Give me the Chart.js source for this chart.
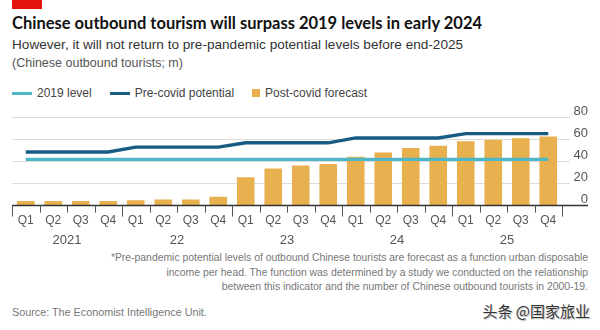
<!DOCTYPE html>
<html>
<head>
<meta charset="utf-8">
<script src="https://cdn.jsdelivr.net/npm/chart.js@4/dist/chart.umd.min.js"></script>
<style>
  html, body { margin: 0; padding: 0; background: #fff; }
  body { width: 600px; height: 330px; position: relative; overflow: hidden;
         font-family: 'Liberation Sans Narrow', 'Liberation Sans', sans-serif; }
  .abs { position: absolute; white-space: nowrap; }
  #marca { left: 12px; top: 0; width: 30px; height: 9px; background: #e3120b; }
  #titulo { left: 12px; top: 13px; font: bold 16.5px Lato, sans-serif; color: #121212; }
  #subtitulo { left: 12px; top: 37px; font-size: 13.6px; color: #333; }
  #unidad { left: 12px; top: 56px; font-size: 12.5px; color: #555; }
  #leyenda { left: 12px; top: 86px; font-size: 12px; color: #444; display: flex; align-items: center; }
  #leyenda .item { display: flex; align-items: center; margin-right: 18px; }
  #leyenda .linea { width: 20px; height: 3px; margin-right: 5px; }
  #leyenda .cuadro { width: 8px; height: 8px; margin-right: 5px; }
  #lienzo { left: 0; top: 100px; width: 600px; height: 150px; }
  #nota { right: 12px; top: 251px; font-size: 10.4px; color: #777; text-align: right; line-height: 14.5px; }
  #fuente { left: 12px; top: 306px; font-size: 10.8px; color: #777; }
  #firma { right: 10px; top: 300px; font: 15px 'Noto Sans CJK SC', sans-serif; color: #333;
           text-shadow: 0 0 2px #fff, 1px 1px 1px #aaa; }
</style>
</head>
<body>
<div id="marca" class="abs"></div>
<div id="titulo" class="abs">Chinese outbound tourism will surpass 2019 levels in early 2024</div>
<div id="subtitulo" class="abs">However, it will not return to pre-pandemic potential levels before end-2025</div>
<div id="unidad" class="abs">(Chinese outbound tourists; m)</div>
<div id="leyenda" class="abs"></div>
<div class="abs" id="lienzo"><canvas id="grafico"></canvas></div>
<div id="nota" class="abs">*Pre-pandemic potential levels of outbound Chinese tourists are forecast as a function urban disposable<br>income per head. The function was determined by a study we conducted on the relationship<br>between this indicator and the number of Chinese outbound tourists in 2000-19.</div>
<div id="fuente" class="abs">Source: The Economist Intelligence Unit.</div>
<div id="firma" class="abs">头条 @国家旅业</div>

<script>
// Trimestres y años del eje X
const trimestres = ['Q1', 'Q2', 'Q3', 'Q4', 'Q1', 'Q2', 'Q3', 'Q4', 'Q1', 'Q2', 'Q3', 'Q4',
                    'Q1', 'Q2', 'Q3', 'Q4', 'Q1', 'Q2', 'Q3', 'Q4'];
const anios = ['2021', '22', '23', '24', '25'];

// Series en millones de turistas
const nivel2019 = [41.7, 41.7, 41.7, 41.7, 41.7, 41.7, 41.7, 41.7, 41.7, 41.7,
                   41.7, 41.7, 41.7, 41.7, 41.7, 41.7, 41.7, 41.7, 41.7, 41.7];
const potencial = [48.4, 48.4, 48.4, 48.4, 52.8, 52.8, 52.8, 52.8, 56.7, 56.7,
                   56.7, 56.7, 61.1, 61.1, 61.1, 61.1, 65, 65, 65, 65];
const pronostico = [4.2, 4.2, 4.2, 4.2, 4.8, 5.5, 5.5, 8, 25.7, 33.6,
                    36.2, 37.5, 44, 48, 52, 54, 58, 59.4, 60.8, 62.4];

// Marcas del eje Y
const marcasY = [0, 20, 40, 60, 80];

const colores = {
    nivel: '#4db7c8',
    potencial: '#195c83',
    barras: '#e8b04e'
};

const fuenteAngosta = "'Liberation Sans Narrow', 'Liberation Sans', sans-serif";

// Leyenda en HTML
const leyenda = document.getElementById('leyenda');
[
    { texto: '2019 level', color: colores.nivel, tipo: 'linea' },
    { texto: 'Pre-covid potential', color: colores.potencial, tipo: 'linea' },
    { texto: 'Post-covid forecast', color: colores.barras, tipo: 'cuadro' }
].forEach(it => {
    leyenda.innerHTML += `<span class="item"><span class="${it.tipo}" style="background:${it.color}"></span>${it.texto}</span>`;
});

// Plugin: marcas del eje X, años, etiquetas del eje Y y línea base
const ejes = {
    id: 'ejes',
    afterDraw(chart) {
        const ctx = chart.ctx;
        const x = chart.scales.x;
        const y = chart.scales.y;
        const medio = (x.getPixelForValue(1) - x.getPixelForValue(0)) / 2;
        const base = y.getPixelForValue(0);

        ctx.save();
        // línea base
        ctx.strokeStyle = '#333';
        ctx.lineWidth = 1.5;
        ctx.beginPath();
        ctx.moveTo(x.left, base);
        ctx.lineTo(588, base);
        ctx.stroke();

        // marcas entre trimestres, más largas entre años
        ctx.strokeStyle = '#555';
        ctx.lineWidth = 1;
        for (let i = 0; i <= trimestres.length; i++) {
            const px = Math.round(x.getPixelForValue(0) - medio + i * medio * 2) + 0.5;
            ctx.beginPath();
            ctx.moveTo(px, base);
            ctx.lineTo(px, base + (i % 4 === 0 ? 11 : 7));
            ctx.stroke();
        }

        // años centrados bajo cada grupo de cuatro trimestres
        ctx.fillStyle = '#555';
        ctx.font = '13px ' + fuenteAngosta;
        ctx.textAlign = 'center';
        ctx.textBaseline = 'middle';
        anios.forEach((a, k) => {
            const px = x.getPixelForValue(k * 4 + 1) + medio;
            ctx.fillText(a, px, base + 35);
        });

        // etiquetas del eje Y sobre cada línea de cuadrícula
        ctx.textAlign = 'right';
        marcasY.forEach(v => {
            ctx.fillText(String(v), 588, y.getPixelForValue(v) - 6);
        });
        ctx.restore();
    }
};

new Chart(document.getElementById('grafico'), {
    type: 'bar',
    data: {
        labels: trimestres,
        datasets: [
            {
                type: 'line',
                label: 'Pre-covid potential',
                data: potencial,
                borderColor: colores.potencial,
                borderWidth: 3.4,
                pointRadius: 0,
                tension: 0
            },
            {
                type: 'line',
                label: '2019 level',
                data: nivel2019,
                borderColor: colores.nivel,
                borderWidth: 3.4,
                pointRadius: 0,
                tension: 0
            },
            {
                label: 'Post-covid forecast',
                data: pronostico,
                backgroundColor: colores.barras,
                barPercentage: 0.64,
                categoryPercentage: 1
            }
        ]
    },
    options: {
        responsive: true,
        maintainAspectRatio: false,
        animation: false,
        layout: { padding: { left: 12, right: 30, top: 17, bottom: 14 } },
        plugins: {
            legend: { display: false },
            tooltip: { enabled: false }
        },
        scales: {
            x: {
                grid: { display: false, drawTicks: false },
                border: { display: false },
                ticks: {
                    color: '#555',
                    font: { family: fuenteAngosta, size: 12 },
                    padding: 8,
                    maxRotation: 0,
                    autoSkip: false
                }
            },
            y: {
                position: 'right',
                min: 0,
                max: 80,
                border: { display: false },
                grid: { color: '#dcdcdc', lineWidth: 1, tickLength: 8 },
                ticks: { display: false, stepSize: 20 }
            }
        }
    },
    plugins: [ejes]
});
</script>
</body>
</html>
